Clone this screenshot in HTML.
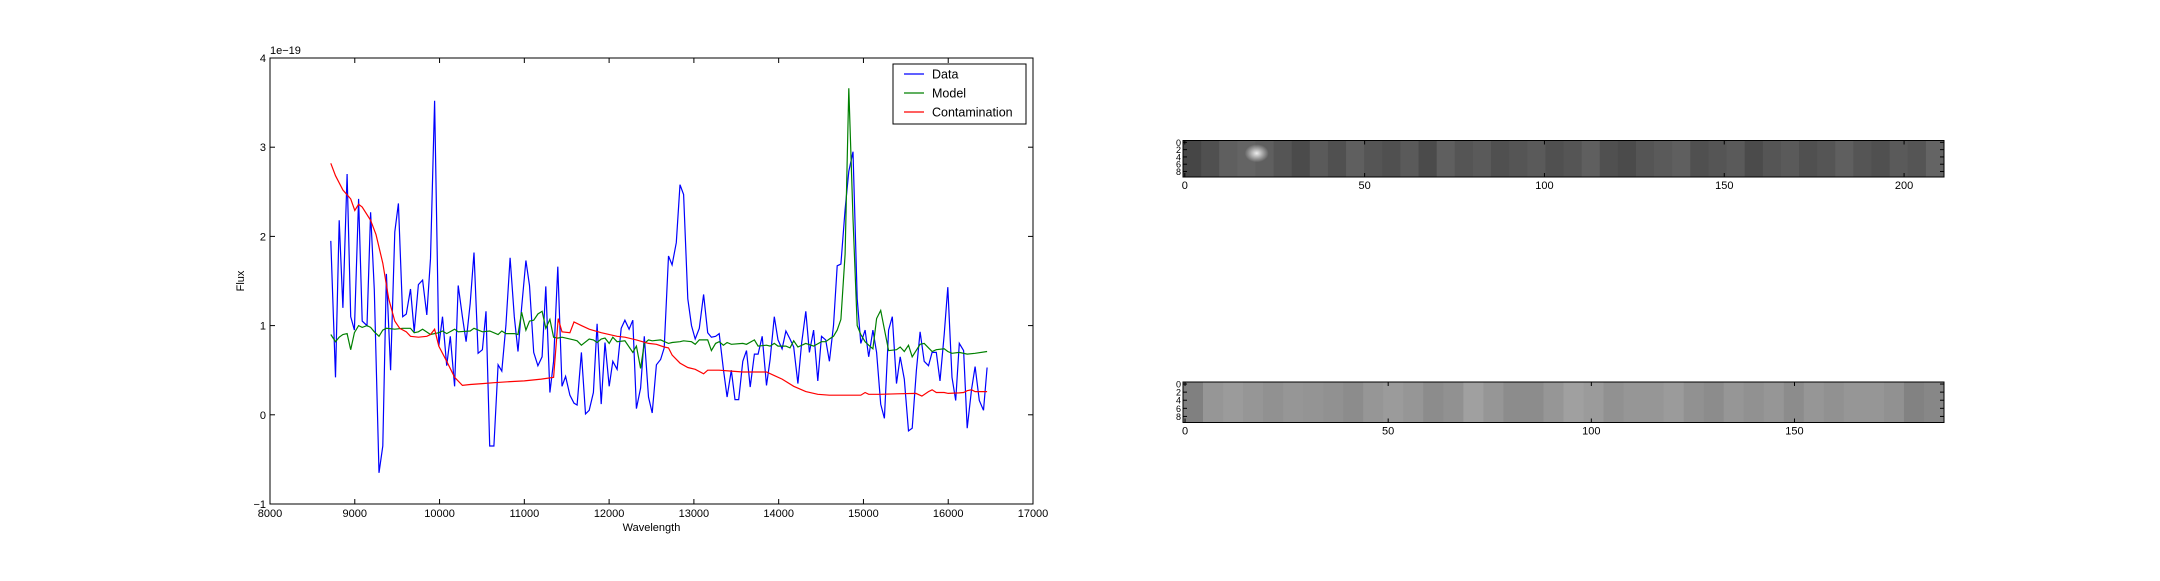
<!DOCTYPE html>
<html><head><meta charset="utf-8"><style>
html,body{margin:0;padding:0;background:#fff;}
svg text{font-family:"Liberation Sans",sans-serif;fill:#000;}
</style></head><body>
<svg id="fig" width="2160" height="576" viewBox="0 0 2160 576" xmlns="http://www.w3.org/2000/svg">
<defs><radialGradient id="blob"><stop offset="0" stop-color="#eee"/><stop offset="1" stop-color="#eee" stop-opacity="0"/></radialGradient></defs>
<rect width="2160" height="576" fill="#fff"/>
<g id="spec"></g>
<g id="img1"></g>
<g id="img2"></g>
</svg>
<script>
const dataWl=[8717,8773,8816,8860,8909,8952,8996,9045,9088,9144,9187,9230,9286,9330,9373,9422,9472,9515,9565,9608,9657,9701,9750,9800,9849,9893,9942,9991,10035,10084,10127,10177,10220,10270,10313,10362,10406,10455,10505,10548,10591,10641,10690,10734,10783,10832,10882,10925,10968,11018,11061,11111,11160,11209,11253,11302,11345,11395,11444,11487,11537,11586,11623,11673,11722,11765,11815,11858,11907,11951,12001,12044,12094,12143,12186,12236,12279,12322,12372,12415,12465,12508,12558,12607,12650,12700,12743,12792,12836,12879,12928,12972,13015,13064,13114,13163,13206,13256,13299,13348,13392,13441,13485,13528,13577,13621,13664,13714,13757,13806,13856,13899,13948,13992,14041,14085,14134,14177,14227,14270,14320,14363,14412,14462,14505,14555,14598,14647,14691,14734,14784,14827,14877,14926,14969,15019,15062,15111,15155,15204,15247,15297,15340,15390,15433,15482,15532,15575,15625,15668,15717,15767,15810,15859,15903,15952,15995,16045,16088,16131,16181,16224,16274,16317,16366,16416,16459];
const dataFlux=[1.95,0.42,2.18,1.2,2.7,1.1,0.95,2.42,1.05,1.0,2.27,1.4,-0.65,-0.35,1.58,0.5,2.05,2.37,1.1,1.13,1.41,0.93,1.46,1.51,1.12,1.75,3.52,0.77,1.1,0.55,0.88,0.32,1.45,1.1,0.82,1.25,1.82,0.69,0.73,1.16,-0.35,-0.35,0.56,0.49,1.0,1.76,1.1,0.71,1.2,1.73,1.45,0.7,0.55,0.65,1.44,0.25,0.6,1.66,0.32,0.43,0.22,0.13,0.11,0.7,0.01,0.05,0.25,1.02,0.12,0.81,0.32,0.6,0.51,0.97,1.06,0.96,1.06,0.07,0.3,0.88,0.2,0.02,0.56,0.62,0.75,1.78,1.68,1.93,2.58,2.47,1.3,1.0,0.85,0.97,1.35,0.92,0.87,0.88,0.91,0.51,0.2,0.5,0.17,0.17,0.6,0.72,0.31,0.68,0.68,0.88,0.33,0.62,1.1,0.84,0.74,0.94,0.85,0.76,0.35,0.8,1.16,0.7,0.95,0.38,0.88,0.84,0.6,1.0,1.67,1.69,2.3,2.73,2.95,1.3,0.8,0.95,0.65,0.95,0.7,0.12,-0.04,0.95,1.1,0.35,0.65,0.4,-0.18,-0.15,0.5,0.93,0.6,0.55,0.7,0.7,0.38,0.9,1.43,0.42,0.16,0.8,0.72,-0.15,0.28,0.54,0.16,0.05,0.53];
const modelWl=[8717,8773,8816,8860,8909,8952,8996,9045,9088,9144,9187,9230,9286,9330,9373,9472,9565,9657,9701,9750,9800,9893,9991,10035,10084,10177,10220,10362,10406,10505,10591,10690,10734,10783,10882,10925,10968,11018,11061,11111,11160,11209,11253,11302,11345,11395,11444,11586,11623,11673,11765,11815,11858,11907,11951,12001,12044,12094,12186,12279,12322,12372,12415,12465,12508,12607,12700,12743,12836,12879,12972,13015,13064,13163,13206,13256,13299,13348,13392,13441,13577,13621,13714,13757,13856,13899,13948,13992,14085,14134,14177,14227,14320,14412,14505,14555,14598,14647,14691,14734,14784,14827,14877,14926,14969,15019,15062,15111,15155,15204,15297,15390,15433,15482,15532,15575,15668,15717,15810,15859,15952,15995,16045,16131,16224,16317,16459];
const modelFlux=[0.9,0.82,0.87,0.9,0.91,0.73,0.92,1.0,0.98,1.0,0.98,0.93,0.88,0.95,0.97,0.96,0.97,0.97,0.92,0.93,0.96,0.9,0.92,0.94,0.91,0.96,0.93,0.94,0.97,0.93,0.94,0.9,0.94,0.91,0.91,0.9,1.15,0.95,1.05,1.06,1.13,1.16,0.97,1.07,0.87,0.86,0.87,0.84,0.83,0.78,0.85,0.84,0.81,0.85,0.86,0.8,0.87,0.82,0.83,0.7,0.77,0.52,0.8,0.84,0.83,0.84,0.8,0.81,0.82,0.83,0.82,0.79,0.84,0.84,0.72,0.8,0.82,0.78,0.81,0.79,0.8,0.79,0.84,0.77,0.78,0.77,0.8,0.77,0.77,0.75,0.83,0.76,0.8,0.77,0.82,0.82,0.85,0.88,0.95,1.07,1.8,3.66,2.2,1.0,0.9,0.82,0.78,0.74,1.08,1.17,0.72,0.73,0.76,0.71,0.78,0.65,0.79,0.8,0.71,0.73,0.74,0.71,0.69,0.7,0.68,0.69,0.71,0.7];
const contWl=[8717,8773,8860,8952,9000,9045,9088,9187,9250,9330,9400,9472,9530,9608,9657,9750,9849,9893,9942,9991,10084,10177,10270,10362,10505,10641,10800,11000,11200,11345,11400,11444,11537,11586,11673,11765,11907,12094,12186,12322,12465,12558,12650,12700,12743,12836,12928,13015,13114,13163,13299,13441,13577,13757,13856,13948,14041,14177,14320,14462,14598,14969,15019,15062,15200,15400,15620,15690,15767,15810,15859,15952,16000,16131,16181,16224,16274,16317,16459];
const contFlux=[2.82,2.68,2.52,2.42,2.29,2.36,2.33,2.18,2.02,1.7,1.3,1.05,0.97,0.93,0.88,0.87,0.88,0.9,0.96,0.77,0.6,0.42,0.33,0.34,0.35,0.36,0.37,0.38,0.4,0.42,1.08,0.93,0.92,1.04,1.0,0.96,0.92,0.88,0.87,0.84,0.8,0.79,0.76,0.75,0.67,0.58,0.53,0.51,0.46,0.5,0.5,0.49,0.48,0.48,0.48,0.44,0.4,0.32,0.26,0.23,0.22,0.22,0.25,0.23,0.23,0.235,0.24,0.21,0.26,0.28,0.25,0.25,0.24,0.245,0.25,0.27,0.28,0.26,0.26];
const xTicks=[8000,9000,10000,11000,12000,13000,14000,15000,16000,17000];
const yTicks=[-1,0,1,2,3,4];
const legendLabels=["Data","Model","Contamination"];
const img1Cols=[70,80,95,100,95,85,75,90,80,95,85,80,90,75,95,85,90,80,85,90,80,85,95,80,75,85,90,95,80,85,90,75,85,90,80,85,95,85,80,90,85,100];
const img2Cols=[128,150,155,150,145,150,148,145,140,150,155,150,140,145,160,150,140,140,150,160,155,145,150,150,155,145,140,150,145,150,140,150,145,150,150,145,130,135];
</script>
<script>
const NS="http://www.w3.org/2000/svg";
function mk(parent,tag,attrs){const e=document.createElementNS(NS,tag);for(const k in attrs)e.setAttribute(k,attrs[k]);parent.appendChild(e);return e;}
const L=270,R=1033,T=58,B=504;
const xS=v=>L+(v-8000)/9000*(R-L);
const yS=v=>B-(v+1)/5*(B-T);
const spec=document.getElementById('spec');
function line(wl,fl,color,name){
  const p=mk(spec,'polyline',{points:wl.map((w,i)=>xS(w).toFixed(1)+','+yS(fl[i]).toFixed(1)).join(' '),fill:'none',stroke:color,'stroke-width':1.2});
  
  
}
line(dataWl,dataFlux,'#0000ff','data-line');
line(modelWl,modelFlux,'#008000','model-line');
line(contWl,contFlux,'#ff0000','contamination-line');
const frame=mk(spec,'rect',{x:L,y:T,width:R-L,height:B-T,fill:'none',stroke:'#000','stroke-width':1});


xTicks.forEach(t=>{const x=xS(t);
  mk(spec,'line',{x1:x,x2:x,y1:B,y2:B-5,stroke:'#000'});mk(spec,'line',{x1:x,x2:x,y1:T,y2:T+5,stroke:'#000'});
  const tx=mk(spec,'text',{x:x,y:517,'font-size':11,'text-anchor':'middle'});tx.textContent=t;
  
  });
yTicks.forEach(t=>{const y=yS(t);
  mk(spec,'line',{x1:L,x2:L+5,y1:y,y2:y,stroke:'#000'});mk(spec,'line',{x1:R,x2:R-5,y1:y,y2:y,stroke:'#000'});
  const tx=mk(spec,'text',{x:L-4,y:y+4,'font-size':11,'text-anchor':'end'});tx.textContent=(t<0?'\u2212':'')+Math.abs(t);
  
  });
let t1=mk(spec,'text',{x:270,y:54,'font-size':11});t1.textContent='1e\u221219';


let xt=mk(spec,'text',{x:(L+R)/2,y:531,'font-size':11,'text-anchor':'middle'});xt.textContent='Wavelength';


let yt=mk(spec,'text',{x:0,y:0,'font-size':11,'text-anchor':'middle',transform:'translate(244,281) rotate(-90)'});yt.textContent='Flux';


const lg=mk(spec,'g',{});


mk(lg,'rect',{x:893,y:64,width:133,height:60,fill:'#fff',stroke:'#000'});
const lc=['#0000ff','#008000','#ff0000'];
legendLabels.forEach((s,i)=>{const y=74+i*19;
  mk(lg,'line',{x1:904,x2:924,y1:y,y2:y,stroke:lc[i],'stroke-width':1.2});
  const tx=mk(lg,'text',{x:932,y:y+4.5,'font-size':12.5});tx.textContent=s;
  
  });

function drawImg(gid,cols,nx,top,h,ticks,bg,blob){
  const g=document.getElementById(gid);const l=1183,r=1944,w=r-l;const u=w/nx;
  mk(g,'rect',{x:l,y:top,width:w,height:h,fill:bg});
  const cw=w/cols.length;
  cols.forEach((c,i)=>{const cell=mk(g,'rect',{x:l+i*cw,y:top,width:cw+0.5,height:h,fill:`rgb(${c},${c},${c})`});
    
    });
  if(blob){const b=mk(g,'ellipse',{cx:l+(blob[0]+0.5)*u,cy:top+(blob[1]+0.5)*h/10,rx:12,ry:9,fill:'url(#blob)'});
    
    }
  mk(g,'rect',{x:l,y:top,width:w,height:h,fill:'none',stroke:'#000','stroke-width':1});
  ticks.forEach(t=>{const x=l+(t+0.5)*u;
    mk(g,'line',{x1:x,x2:x,y1:top+h,y2:top+h-4,stroke:'#000'});mk(g,'line',{x1:x,x2:x,y1:top,y2:top+4,stroke:'#000'});
    const tx=mk(g,'text',{x:x,y:top+h+12,'font-size':11,'text-anchor':'middle'});tx.textContent=t;
    
    });
  [0,2,4,6,8].forEach(t=>{const y=top+(t+0.5)*h/10;
    mk(g,'line',{x1:l,x2:l+4,y1:y,y2:y,stroke:'#000'});mk(g,'line',{x1:r,x2:r-4,y1:y,y2:y,stroke:'#000'});
    const tx=mk(g,'text',{x:l-2,y:y+3.5,'font-size':9,'text-anchor':'end'});tx.textContent=t;
    
    });
}
drawImg('img1',img1Cols,211.6,140.5,36.5,[0,50,100,150,200],'#555',[20,3]);
drawImg('img2',img2Cols,187.3,382,40.5,[0,50,100,150],'#888',null);
</script>
</body></html>
